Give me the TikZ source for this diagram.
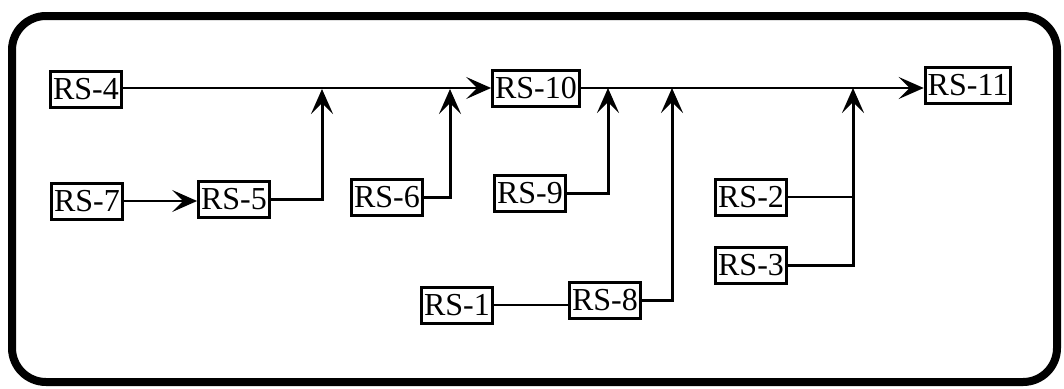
\documentclass[tikz,border=0pt]{standalone}
\usepackage{fontspec}
\setmainfont{Liberation Serif}
\usetikzlibrary{arrows.meta}
\tikzset{
  rsbox/.style={draw, line width=3pt, inner xsep=2.5pt, inner ysep=0pt, minimum height=36pt,
    font=\fontsize{32}{32}\selectfont},
  mainline/.style={line width=2.4pt},
  feed/.style={line width=3pt},
  thinline/.style={line width=1.9pt},
  tip/.style={-{Stealth[length=25pt,width=22pt,inset=11pt]}},
}
\begin{document}
\begin{tikzpicture}[x=1pt,y=-1pt]
\useasboundingbox (0,0) rectangle (1064,388);
\draw[line width=8pt, rounded corners=34pt] (12,16) rectangle (1057,382);

\node[rsbox] (rs4)  at (86,89.5)  {RS-4};
\node[rsbox] (rs7)  at (87,201)   {RS-7};
\node[rsbox] (rs5)  at (234,199)  {RS-5};
\node[rsbox] (rs6)  at (387,197)  {RS-6};
\node[rsbox] (rs10) at (536,88)   {RS-10};
\node[rsbox] (rs9)  at (530,193)  {RS-9};
\node[rsbox] (rs1)  at (457,305)  {RS-1};
\node[rsbox] (rs8)  at (605,300)  {RS-8};
\node[rsbox] (rs11) at (968,85)   {RS-11};
\node[rsbox] (rs2)  at (751,197)  {RS-2};
\node[rsbox] (rs3)  at (751,265)  {RS-3};

\coordinate (j1) at (322,89);
\coordinate (j2) at (450,89);
\coordinate (j3) at (608,88);
\coordinate (j4) at (672,88);
\coordinate (j5) at (853,88);

% main line
\draw[mainline,tip] (rs4.east |- rs10) -- (rs10.west);
\draw[mainline,tip] (rs10.east) -- (rs10 -| rs11.west);

% RS-7 -> RS-5
\draw[mainline,tip] (rs7.east) -- (rs7 -| rs5.west);

% feeders
\draw[feed,tip] (rs5.east) -| (j1);
\draw[feed,tip] (rs6.east) -| (j2);
\draw[feed,tip] (rs9.east) -| (j3);
\draw[thinline] (rs1.east) -- (rs1 -| rs8.west);
\draw[feed,tip] (rs8.east) -| (j4);
\draw[thinline] (rs2.east) -- (rs2 -| j5);
\draw[feed,tip] (rs3.east) -| (j5);
\end{tikzpicture}
\end{document}
